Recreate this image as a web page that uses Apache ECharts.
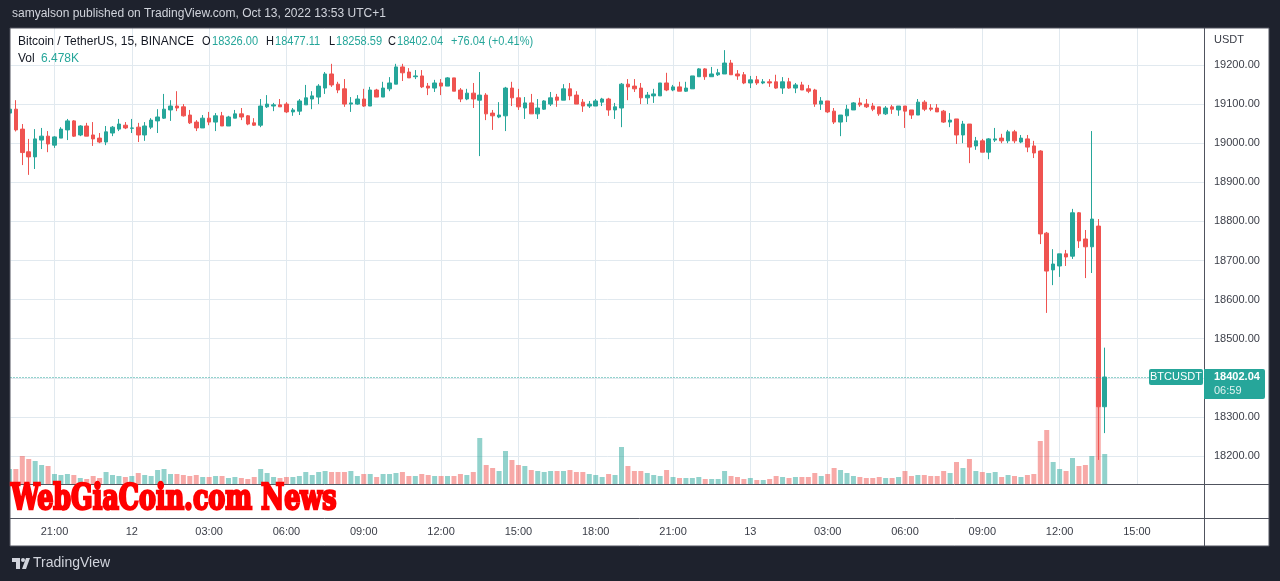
<!DOCTYPE html>
<html><head><meta charset="utf-8">
<script src="https://cdn.jsdelivr.net/npm/echarts@6/dist/echarts.min.js"></script>
<style>html,body{margin:0;padding:0;background:#1e222d;}#c{width:1280px;height:581px;}</style>
</head><body><div id="c"></div>
<script>
// ---- data (15-minute BTC/USDT candles, Oct 11 19:15 -> Oct 13 13:45) ----
const barOffset = -7; // first bar index relative to the Oct 11 21:00 bar
const opens = [19077,19087,19036,18978,18965,19008,19018,
18995,19013,19034,19057,19021,19044,19021,19013,19003,19026,
19036,19046,19038,19041,19021,19041,19057,19064,19085,19095,
19093,19072,19054,19039,19064,19054,19070,19044,19064,19075,
19070,19052,19046,19093,19095,19098,19100,19080,19082,19098,
19113,19118,19141,19177,19151,19139,19100,19100,19113,19095,
19136,19118,19139,19151,19195,19182,19170,19172,19146,19141,
19154,19146,19167,19136,19113,19128,19110,19123,19077,19067,
19070,19141,19116,19090,19103,19075,19087,19100,19118,19110,
19139,19123,19105,19095,19095,19105,19113,19085,19090,19151,
19146,19141,19116,19121,19121,19154,19136,19144,19133,19139,
19170,19190,19170,19175,19177,19205,19177,19175,19154,19162,
19154,19157,19157,19141,19157,19141,19149,19139,19136,19100,
19108,19082,19054,19070,19085,19103,19100,19095,19093,19075,
19093,19085,19095,19085,19072,19105,19090,19090,19082,19054,
19062,19021,19049,18993,19006,18977,19008,19013,19006,19029,
19003,19011,18993,18980,18770,18676,18686,18717,18711,18822,
18755,18735,18788,18326.00];
const closes = [19087,19034,18976,18965,19011,19018,18998,
19016,19036,19057,19018,19044,19018,19011,19003,19029,19041,
19049,19039,19039,19021,19044,19059,19067,19087,19095,19090,
19070,19052,19039,19064,19054,19070,19044,19067,19075,19067,
19049,19046,19095,19100,19098,19093,19080,19085,19108,19116,
19121,19146,19177,19149,19136,19100,19103,19113,19095,19136,
19118,19141,19154,19195,19180,19167,19172,19144,19141,19154,
19146,19167,19133,19113,19128,19113,19123,19075,19070,19072,
19141,19116,19093,19103,19075,19090,19108,19116,19110,19139,
19121,19100,19095,19100,19108,19113,19085,19093,19151,19144,
19139,19116,19123,19126,19154,19136,19144,19133,19141,19172,
19190,19170,19177,19180,19205,19175,19172,19154,19162,19154,
19157,19154,19141,19157,19141,19149,19136,19133,19100,19108,
19080,19054,19072,19087,19103,19098,19093,19087,19075,19090,
19087,19095,19082,19072,19105,19087,19087,19080,19054,19059,
19021,19049,18990,19006,18977,19011,19011,19006,19029,19006,
19013,18990,18975,18768,18673,18691,18717,18709,18822,18750,
18735,18806,18326,18402.04];
const lows = [19072,19030,18944,18919,18934,18985,18977,
18988,19013,19008,19016,19018,19018,18993,19000,18995,19018,
19031,19036,19026,19003,19006,19036,19026,19062,19057,19082,
19068,19049,19031,19039,19046,19031,19044,19044,19064,19059,
19046,19044,19041,19090,19082,19093,19077,19070,19072,19098,
19087,19100,19126,19144,19128,19093,19080,19098,19093,19095,
19118,19118,19133,19151,19159,19167,19164,19141,19123,19131,
19123,19146,19133,19105,19110,19090,18967,19059,19034,19064,
19031,19095,19085,19062,19075,19062,19085,19095,19093,19110,
19110,19100,19080,19090,19095,19095,19070,19062,19041,19110,
19131,19100,19100,19103,19121,19133,19133,19133,19131,19139,
19170,19162,19170,19172,19177,19175,19162,19151,19141,19149,
19151,19144,19139,19126,19139,19128,19136,19128,19093,19085,
19077,19049,19018,19054,19085,19093,19090,19082,19070,19072,
19075,19070,19039,19062,19072,19082,19082,19080,19052,19041,
18998,19000,18949,18983,18977,18959,19003,19000,19000,19000,
19000,18977,18962,18742,18566,18637,18658,18686,18704,18732,
18655,18668,18190,18258.59];
const highs = [19090,19110,19049,19011,19036,19039,19031,
19018,19041,19062,19059,19046,19052,19054,19026,19044,19044,
19062,19054,19062,19052,19054,19064,19087,19126,19110,19133,
19100,19085,19059,19072,19080,19077,19080,19070,19085,19090,
19072,19064,19113,19123,19103,19113,19105,19090,19113,19149,
19133,19151,19182,19203,19157,19164,19118,19123,19139,19144,
19139,19157,19169,19203,19203,19192,19187,19187,19154,19162,
19164,19169,19167,19141,19139,19154,19182,19128,19085,19105,
19144,19157,19139,19118,19126,19113,19110,19131,19126,19151,
19154,19133,19113,19108,19113,19116,19116,19103,19154,19164,
19164,19154,19131,19139,19154,19180,19149,19157,19157,19172,
19192,19192,19195,19190,19238,19213,19187,19182,19172,19172,
19164,19164,19175,19169,19167,19154,19157,19149,19139,19118,
19108,19090,19072,19098,19105,19116,19113,19103,19093,19095,
19098,19095,19095,19085,19113,19110,19100,19100,19085,19077,
19062,19057,19049,19016,19011,19013,19039,19024,19034,19034,
19021,19021,19006,18982,18773,18729,18717,18727,18832,18824,
18778,19031,18806,18477.11];
const volumesK = [3.24,3.24,6.05,5.40,4.97,4.10,3.89,
2.16,1.94,2.16,1.94,1.30,1.08,1.73,1.30,2.59,1.94,
1.73,1.51,1.73,2.38,1.94,1.73,3.02,3.24,2.16,2.16,
1.94,1.73,1.94,1.51,1.51,1.73,1.73,1.30,1.51,1.30,
1.08,1.51,3.24,2.38,1.51,1.30,1.51,1.51,1.73,2.59,
1.94,2.59,2.81,2.59,2.59,2.59,2.81,1.73,2.16,2.16,
1.51,2.16,2.16,2.38,2.59,1.73,1.73,2.16,1.94,1.73,
1.73,1.73,1.73,2.16,1.94,2.59,9.94,4.10,3.46,2.81,
7.13,5.18,4.10,3.89,3.02,2.81,2.59,2.81,2.81,2.81,
3.02,2.59,2.59,2.16,1.94,1.51,2.16,1.94,7.99,3.89,
2.81,2.81,2.38,1.94,1.73,3.02,1.51,1.30,1.30,1.30,
1.51,1.08,1.08,1.08,2.81,1.73,1.51,1.08,1.30,0.86,
0.86,1.08,1.73,1.51,1.30,1.51,1.51,1.51,2.38,1.73,
2.16,3.46,3.02,2.38,1.73,1.51,1.30,1.30,1.51,1.30,
1.30,1.51,2.81,1.73,1.94,1.94,1.73,1.73,2.81,2.38,
4.75,3.46,5.40,2.81,2.59,2.38,2.59,1.51,1.94,1.73,
1.51,1.94,2.16,9.29,11.66,4.75,3.24,2.81,5.62,3.89,
4.10,6.05,24.62,6.478];
const tickBars = [0,12,24,36,48,60,72,84,96,108,120,132,144,156,168];
const tickLabels = ['21:00','12','03:00','06:00','09:00','12:00','15:00','18:00','21:00','13','03:00','06:00','09:00','12:00','15:00'];
const priceTicks = [18200,18300,18400,18500,18600,18700,18800,18900,19000,19100,19200];
const lastPrice = 18402.04;
const legendItems = [['O', '18326.00'], ['H', '18477.11'], ['L', '18258.59'], ['C', '18402.04']];
const legendChange = '+76.04 (+0.41%)';

// ---- chart ----
const UP = '#26a69a', DOWN = '#ef5350';
const FONT = '"Liberation Sans", Arial, sans-serif';
const chart = echarts.init(document.getElementById('c'), null, {renderer: 'canvas', width: 1280, height: 581});
const candleData = opens.map((o, k) => [k + barOffset, o, closes[k], lows[k], highs[k]]);
const volData = volumesK.map((v, k) => ({
  value: [k + barOffset, v],
  itemStyle: {color: closes[k] >= opens[k] ? 'rgba(38,166,154,0.5)' : 'rgba(239,83,80,0.5)'}
}));

chart.setOption({
  backgroundColor: '#1e222d',
  animation: false,
  textStyle: {fontFamily: FONT},
  grid: {left: 10.5, right: 76, top: 28, bottom: 97, outerBoundsMode: 'none'},
  xAxis: {
    type: 'value', min: -6.83, max: 178.41,
    axisLine: {show: false},
    axisTick: {show: false, customValues: tickBars},
    axisLabel: {customValues: tickBars, formatter: v => tickLabels[tickBars.indexOf(v)],
      margin: 42, color: '#3a3d47', fontSize: 11, fontFamily: FONT},
    splitLine: {show: true, lineStyle: {color: '#e1e9ef', width: 1}}
  },
  yAxis: [{
    type: 'value', position: 'right', min: 18128.4, max: 19294.6,
    axisLine: {show: false},
    axisTick: {show: false, customValues: priceTicks},
    axisLabel: {customValues: priceTicks.filter(p => p !== 18400), formatter: v => v.toFixed(2),
      margin: 10, color: '#3a3d47', fontSize: 11, fontFamily: FONT},
    splitLine: {show: true, lineStyle: {color: '#e1e9ef', width: 1}}
  }, {
    type: 'value', min: 0, max: 98.5, show: false, splitLine: {show: false}
  }],
  series: [{
    type: 'bar', yAxisIndex: 1, data: volData, barWidth: 5, z: 1, silent: true
  }, {
    type: 'candlestick', yAxisIndex: 0, data: candleData, barWidth: 4, z: 3, silent: true,
    itemStyle: {color: UP, color0: DOWN, borderColor: UP, borderColor0: DOWN, borderWidth: 1},
    markLine: {silent: true, symbol: 'none', label: {show: false},
      lineStyle: {color: UP, type: [1, 2], width: 1},
      data: [{yAxis: lastPrice}]}
  }]
});

const yp = chart.convertToPixel({yAxisIndex: 0}, lastPrice);
const wm = 'WebGiaCoin.com News';
const WMFONT = 'bold 36px "DejaVu Serif Condensed", "DejaVu Serif", serif';
const mctx = document.createElement('canvas').getContext('2d');
mctx.font = WMFONT;
const wmW = (mctx.measureText(wm).width || 330) + 2;
const line = (x1, y1, x2, y2) => ({type: 'line', z: 50, shape: {x1, y1, x2, y2}, style: {stroke: '#50535e', lineWidth: 1}});
const txt = (x, y, text, fill, font, extra, sx) => Object.assign({type: 'text', z: 60, x, y, scaleX: sx || 1,
  style: Object.assign({text, fill, font, verticalAlign: 'middle'}, extra || {})});

const legendEls = [];
const legendX = [[202, 212], [266, 275], [329, 336], [388, 397]];
legendItems.forEach((it, i) => {
  legendEls.push(txt(legendX[i][0], 42, it[0], '#131722', '12px ' + FONT, null, 0.92));
  legendEls.push(txt(legendX[i][1], 42, it[1], UP, '12px ' + FONT, null, 0.92));
});
legendEls.push(txt(451, 42, legendChange, UP, '12px ' + FONT, null, 0.92));

chart.setOption({graphic: {elements: [
  {type: 'rect', z: -100, shape: {x: 10, y: 28, width: 1259, height: 518}, style: {fill: '#ffffff'}},
  {type: 'rect', z: 45, shape: {x: 0, y: 28, width: 10, height: 518}, style: {fill: '#1e222d'}},
  txt(12, 14, 'samyalson published on TradingView.com, Oct 13, 2022 13:53 UTC+1', '#d1d4dc', '12px ' + FONT),
  txt(18, 42, 'Bitcoin / TetherUS, 15, BINANCE', '#131722', '12px ' + FONT),
  ...legendEls,
  txt(18, 59, 'Vol', '#131722', '12px ' + FONT),
  txt(41, 59, '6.478K', UP, '12px ' + FONT),
  line(10, 484.5, 1269, 484.5),
  line(10, 518.5, 1269, 518.5),
  line(1204.5, 28, 1204.5, 546),
  {type: 'rect', z: 46, shape: {x: 10, y: 28, width: 1259, height: 518}, style: {fill: null, stroke: '#50535e', lineWidth: 1}},
  txt(1214, 40, 'USDT', '#3a3d47', '11px ' + FONT),
  {type: 'rect', z: 60, shape: {x: 1149, y: yp - 8, width: 54, height: 16, r: 2}, style: {fill: UP}},
  txt(1176, yp, 'BTCUSDT', '#ffffff', '11px ' + FONT, {align: 'center'}),
  {type: 'rect', z: 60, shape: {x: 1204, y: yp - 8, width: 61, height: 30, r: [0, 2, 2, 0]}, style: {fill: UP}},
  txt(1214, yp, lastPrice.toFixed(2), '#ffffff', 'bold 11px ' + FONT),
  txt(1214, yp + 14, '06:59', '#e0f2f0', '11px ' + FONT),
  {type: 'text', z: 70, x: 11, y: 500, scaleX: 327 / wmW, style: {text: wm, fill: '#ff0000', stroke: '#ff0000', lineWidth: 2.5,
    font: WMFONT, verticalAlign: 'middle'}},
  {type: 'rect', z: 60, shape: {x: 12, y: 558, width: 8, height: 4}, style: {fill: '#d1d4dc'}},
  {type: 'rect', z: 60, shape: {x: 16, y: 558, width: 4, height: 11}, style: {fill: '#d1d4dc'}},
  {type: 'circle', z: 60, shape: {cx: 23, cy: 560, r: 2}, style: {fill: '#d1d4dc'}},
  {type: 'polygon', z: 60, shape: {points: [[26, 558], [30, 558], [26, 569], [22, 569]]}, style: {fill: '#d1d4dc'}},
  txt(33, 563, 'TradingView', '#d1d4dc', '14px ' + FONT)
]}});
</script>
</body></html>
